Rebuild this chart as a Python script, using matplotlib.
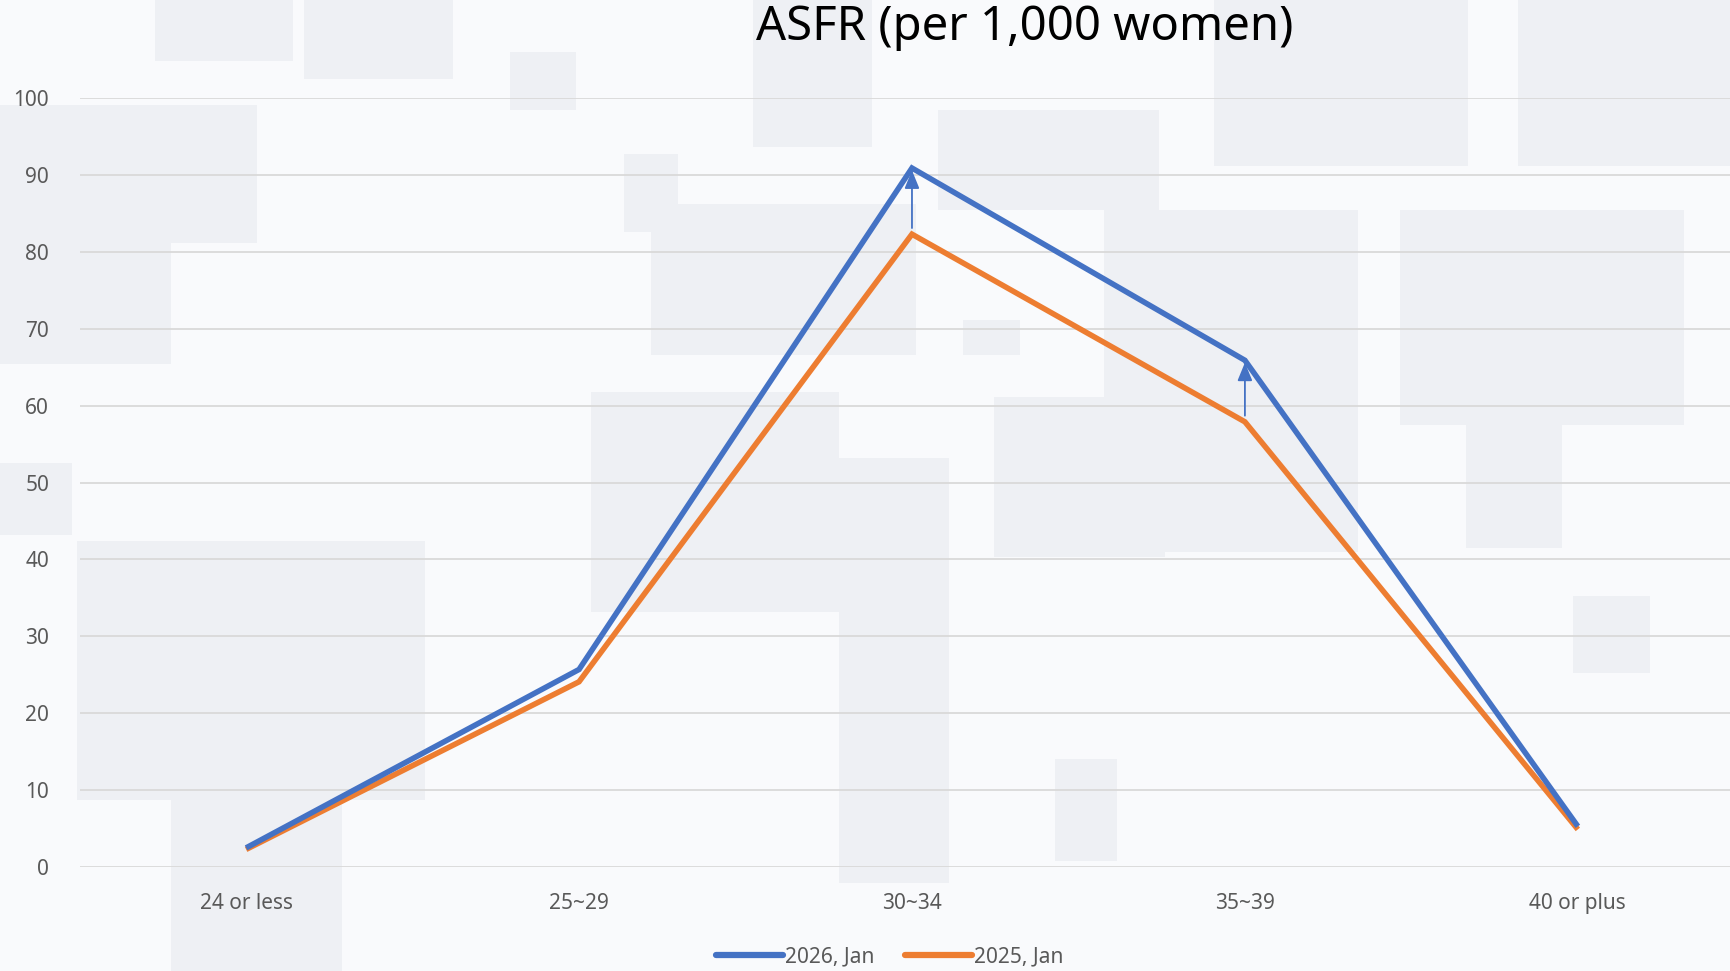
import matplotlib.pyplot as plt
from matplotlib.patches import Rectangle

# data
age_groups = ["24 or less", "25~29", "30~34", "35~39", "40 or plus"]
asfr_2026_jan = [2.5, 25.7, 90.9, 65.9, 5.3]
asfr_2025_jan = [2.3, 24.1, 82.3, 57.9, 4.9]
arrow_groups = [2, 3]   # where the increase is marked with an arrow
y_ticks = list(range(0, 101, 10))

c_blue = "#4472C4"
c_orange = "#ED7D31"
c_grid = "#D9D9D9"
c_text = "#595959"

plt.rcParams['font.family'] = ['Noto Sans', 'DejaVu Sans']

fig = plt.figure(figsize=(17.31, 9.71), dpi=100)
fig.patch.set_facecolor("#F9FAFC")

# faint background blocks (decoration only), pixel coords of the 1568x880 preview
bg = fig.add_axes([0, 0, 1, 1], zorder=-1)
bg.set_xlim(0, 1568)
bg.set_ylim(880, 0)
bg.axis("off")
blocks = [
    (565, 140, 49, 70), (462, 47, 60, 53), (682, 0, 108, 133), (590, 185, 240, 137),
    (535, 355, 225, 200), (760, 415, 100, 385), (872, 290, 52, 32), (1100, 0, 230, 150),
    (1375, 0, 193, 150), (1268, 190, 257, 195), (1328, 385, 87, 112), (70, 490, 315, 235),
    (0, 95, 233, 125), (0, 220, 155, 110), (956, 688, 56, 92), (1425, 540, 70, 70),
    (900, 360, 155, 145), (1000, 190, 230, 310), (140, 0, 125, 55), (275, 0, 135, 72),
    (155, 725, 155, 155), (850, 100, 200, 90), (0, 420, 65, 65),
]
for (bx, by, bw, bh) in blocks:
    bg.add_patch(Rectangle((bx, by), bw, bh, facecolor="#EEF0F4", edgecolor="none"))

ax = fig.add_axes([0.046, 0.107, 0.954, 0.792], zorder=1)
ax.set_facecolor("none")

x = list(range(len(age_groups)))
ax.plot(x, asfr_2026_jan, color=c_blue, lw=4, label="2026, Jan", zorder=4,
        solid_joinstyle="miter", solid_capstyle="butt")
ax.plot(x, asfr_2025_jan, color=c_orange, lw=4, label="2025, Jan", zorder=3,
        solid_joinstyle="miter", solid_capstyle="butt")

for i in arrow_groups:
    ax.annotate("", xy=(x[i], asfr_2026_jan[i] - 0.3), xytext=(x[i], asfr_2025_jan[i] + 0.8),
                arrowprops=dict(arrowstyle="-|>,head_width=0.45,head_length=1.1",
                                color=c_blue, lw=1.3, shrinkA=0, shrinkB=0), zorder=5)

ax.set_xlim(-0.5, 4.46)
ax.set_ylim(0, 100)
ax.set_yticks(y_ticks)
ax.set_xticks(x)
ax.set_xticklabels(age_groups)
ax.yaxis.grid(True, color=c_grid, lw=1.3)
ax.set_axisbelow(True)
for s in ax.spines.values():
    s.set_visible(False)
ax.tick_params(axis="both", length=0, labelsize=15, labelcolor=c_text)
ax.tick_params(axis="x", pad=19)
ax.tick_params(axis="y", pad=22)
for lbl in ax.get_yticklabels():
    lbl.set_clip_on(False)

fig.text(0.592, 0.972, "ASFR (per 1,000 women)", ha="center", va="center",
         fontsize=34, color="#000000")

leg = fig.legend(loc="center", bbox_to_anchor=(0.514, 0.015), ncol=2, frameon=False,
                 fontsize=15, handlelength=3.2, handletextpad=0.1, columnspacing=1.5)
for t in leg.get_texts():
    t.set_color(c_text)
for h in leg.get_lines():
    h.set_linewidth(4.5)
    h.set_solid_capstyle("round")

fig.savefig("out.png", dpi=100)
